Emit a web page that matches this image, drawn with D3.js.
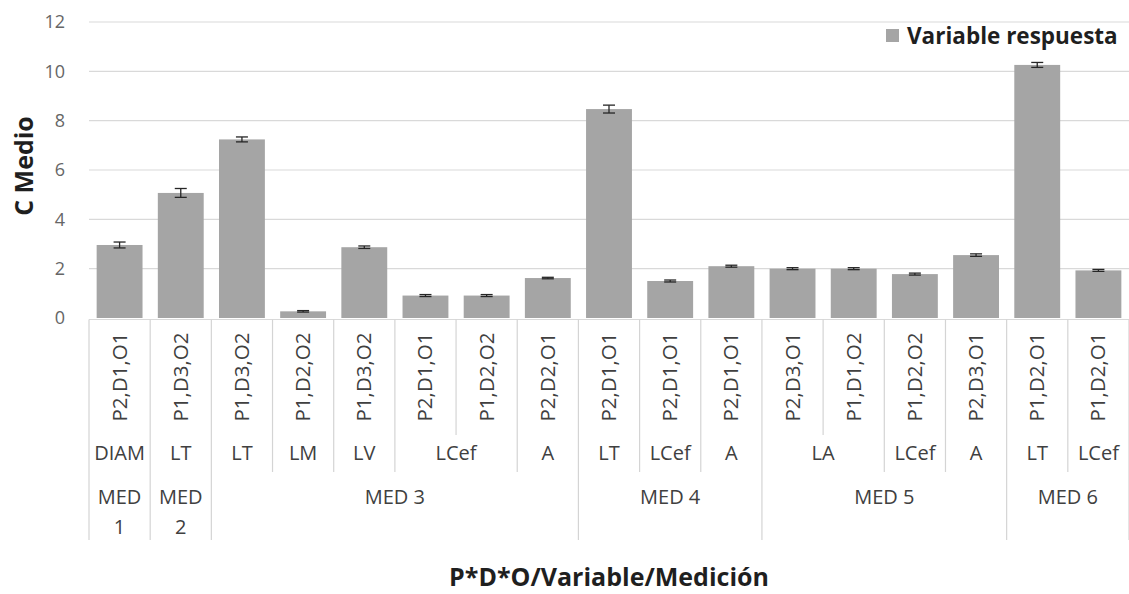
<!DOCTYPE html>
<html>
<head>
<meta charset="utf-8">
<script src="https://cdn.jsdelivr.net/npm/d3@7"></script>
<style>
  html, body { margin: 0; padding: 0; background: #ffffff; }
  svg { display: block; }
  text { font-family: "Open Sans", "DejaVu Sans", sans-serif; }
</style>
</head>
<body>
<svg id="chart" width="1129" height="594"></svg>
<script>
// Treatment combination (P*D*O) for each bar
const combos = ["P2,D1,O1","P1,D3,O2","P1,D3,O2","P1,D2,O2","P1,D3,O2","P2,D1,O1","P1,D2,O2","P2,D2,O1",
                "P2,D1,O1","P2,D1,O1","P2,D1,O1",
                "P2,D3,O1","P1,D1,O2","P1,D2,O2","P2,D3,O1",
                "P1,D2,O1","P1,D2,O1"];
// Measured variable for each bar
const variables = ["DIAM","LT","LT","LM","LV","LCef","LCef","A",
                   "LT","LCef","A",
                   "LA","LA","LCef","A",
                   "LT","LCef"];
// Measurement round for each bar
const mediciones = ["MED 1","MED 2","MED 3","MED 3","MED 3","MED 3","MED 3","MED 3",
                    "MED 4","MED 4","MED 4",
                    "MED 5","MED 5","MED 5","MED 5",
                    "MED 6","MED 6"];
// Mean response (C Medio) and its error
const values = [2.96,5.07,7.24,0.27,2.87,0.91,0.91,1.62,8.47,1.50,2.10,2.00,2.00,1.78,2.55,10.26,1.93];
const errors = [0.12,0.18,0.10,0.03,0.05,0.04,0.04,0.03,0.16,0.04,0.04,0.04,0.04,0.04,0.05,0.10,0.04];
const yTicks = [0, 2, 4, 6, 8, 10, 12];
const seriesName = "Variable respuesta";
const yTitle = "C Medio";
const xTitle = "P*D*O/Variable/Medición";

const svg = d3.select("#chart");
const plot = { left: 89, right: 1129, top: 22, bottom: 318 };
const rows = { leaf: 435, variable: 472, medicion: 540 };

const idx = d3.range(values.length);
const x = d3.scaleBand().domain(idx).range([plot.left, plot.right])
  .paddingInner(0.25).paddingOuter(0.125);
const y = d3.scaleLinear().domain([0, 12]).range([plot.bottom, plot.top]);

// Horizontal gridlines
svg.append("g")
  .selectAll("line").data(yTicks.filter(t => t > 0)).join("line")
  .attr("x1", plot.left).attr("x2", plot.right)
  .attr("y1", d => y(d)).attr("y2", d => y(d))
  .attr("stroke", "#d9d9d9").attr("stroke-width", 1.2);

// Y axis labels
const yAxis = svg.append("g")
  .attr("transform", `translate(${plot.left - 24},0)`)
  .call(d3.axisLeft(y).tickValues(yTicks).tickSize(0).tickPadding(0));
yAxis.select(".domain").remove();
yAxis.selectAll("text")
  .attr("font-size", 18).attr("fill", "#666666")
  .style("font-family", "'Open Sans', sans-serif");

// Bars
svg.append("g")
  .selectAll("rect").data(idx).join("rect")
  .attr("x", i => x(i)).attr("width", x.bandwidth())
  .attr("y", i => y(values[i])).attr("height", i => y(0) - y(values[i]))
  .attr("fill", "#a5a5a5");

// Error bars
const eb = svg.append("g").attr("stroke", "#262626").attr("stroke-width", 1.3);
idx.forEach(i => {
  const cx = x(i) + x.bandwidth() / 2;
  const y1 = y(values[i] + errors[i]), y2 = y(values[i] - errors[i]);
  eb.append("line").attr("x1", cx).attr("x2", cx).attr("y1", y1).attr("y2", y2);
  eb.append("line").attr("x1", cx - 6).attr("x2", cx + 6).attr("y1", y1).attr("y2", y1);
  eb.append("line").attr("x1", cx - 6).attr("x2", cx + 6).attr("y1", y2).attr("y2", y2);
});

// Category axis line
svg.append("line")
  .attr("x1", plot.left).attr("x2", plot.right)
  .attr("y1", plot.bottom + 1.5).attr("y2", plot.bottom + 1.5)
  .attr("stroke", "#d9d9d9").attr("stroke-width", 1.2);

// Multi-level category separators
const step = x.step();
const edge = i => plot.left + i * step;
const sep = svg.append("g").attr("stroke", "#d4d4d4").attr("stroke-width", 1.2);
for (let i = 0; i <= values.length; i++) {
  let bottom;
  if (i === 0 || i === values.length || mediciones[i] !== mediciones[i - 1]) bottom = rows.medicion;
  else if (variables[i] !== variables[i - 1]) bottom = rows.variable;
  else bottom = rows.leaf;
  sep.append("line").attr("x1", edge(i)).attr("x2", edge(i))
    .attr("y1", plot.bottom + 1.5).attr("y2", bottom);
}

// Level 1: rotated treatment labels
svg.append("g")
  .selectAll("text").data(idx).join("text")
  .attr("transform", i => `translate(${x(i) + x.bandwidth() / 2 + 7},377) rotate(-90)`)
  .attr("text-anchor", "middle")
  .attr("font-size", 20.5).attr("fill", "#404040")
  .text(i => combos[i]);

// Group contiguous runs of equal keys (variable runs stay within one measurement)
function runs(keys, sameGroup) {
  const out = [];
  keys.forEach((k, i) => {
    const last = out[out.length - 1];
    if (last && last.key === k && sameGroup(i, last.start)) last.end = i;
    else out.push({ key: k, start: i, end: i });
  });
  return out;
}

// Level 2: variable labels
svg.append("g")
  .selectAll("text").data(runs(variables, (a, b) => mediciones[a] === mediciones[b])).join("text")
  .attr("x", d => (edge(d.start) + edge(d.end + 1)) / 2)
  .attr("y", 460)
  .attr("text-anchor", "middle")
  .attr("font-size", 20).attr("fill", "#404040")
  .text(d => d.key);

// Level 3: measurement labels (wrapped when the group is a single column)
const medG = svg.append("g");
runs(mediciones, () => true).forEach(d => {
  const cx = (edge(d.start) + edge(d.end + 1)) / 2;
  const t = medG.append("text").attr("text-anchor", "middle")
    .attr("font-size", 20).attr("fill", "#404040");
  if (d.start === d.end) {
    const parts = d.key.split(" ");
    t.append("tspan").attr("x", cx).attr("y", 504).text(parts[0]);
    t.append("tspan").attr("x", cx).attr("y", 534).text(parts[1]);
  } else {
    t.attr("x", cx).attr("y", 504).text(d.key);
  }
});

// Legend
svg.append("rect").attr("x", 886).attr("y", 29).attr("width", 13).attr("height", 13).attr("fill", "#a5a5a5");
svg.append("text").attr("x", 907).attr("y", 44)
  .attr("font-size", 22.5).attr("font-weight", "bold").attr("fill", "#1f1f1f")
  .text(seriesName);

// Axis titles
svg.append("text")
  .attr("transform", `translate(33,166) rotate(-90)`)
  .attr("text-anchor", "middle")
  .attr("font-size", 25).attr("font-weight", "bold").attr("fill", "#1f1f1f")
  .text(yTitle);
svg.append("text")
  .attr("x", (plot.left + plot.right) / 2).attr("y", 586)
  .attr("text-anchor", "middle")
  .attr("font-size", 25).attr("font-weight", "bold").attr("fill", "#1f1f1f")
  .text(xTitle);
</script>
</body>
</html>
